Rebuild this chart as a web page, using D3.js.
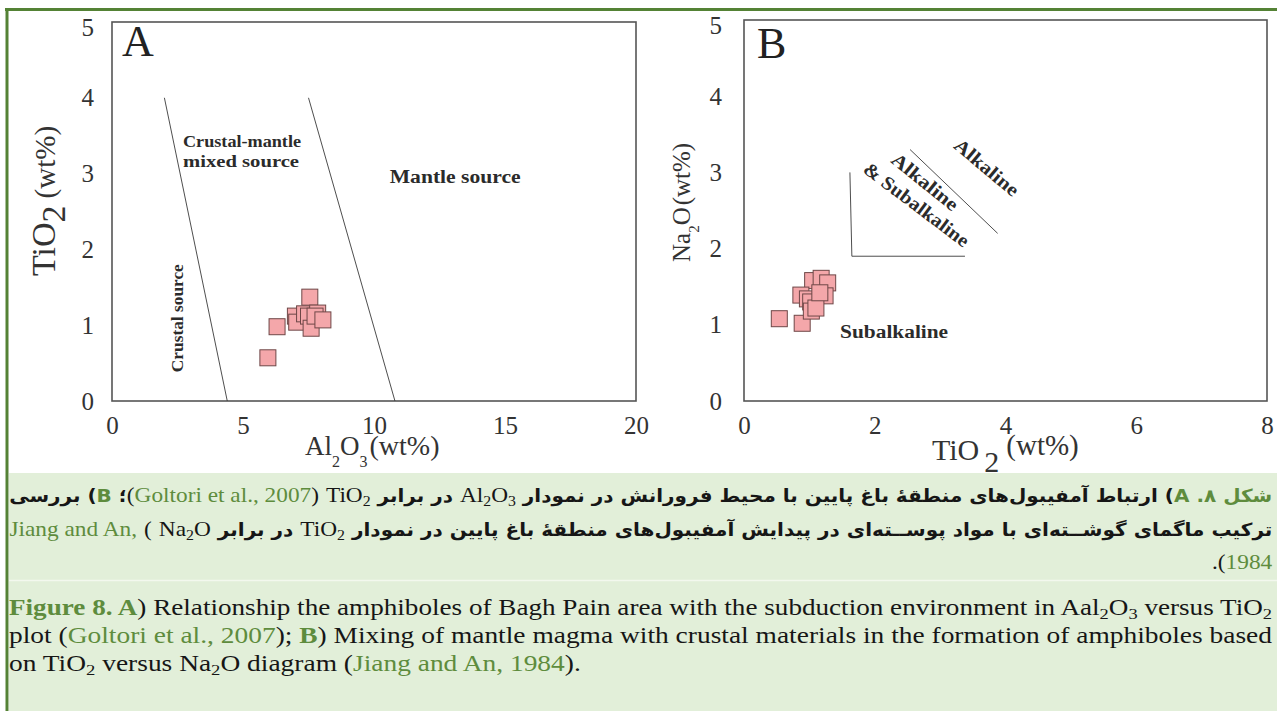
<!DOCTYPE html>
<html>
<head>
<meta charset="utf-8">
<script src="https://cdn.jsdelivr.net/npm/d3@7"></script>
<style>
  html, body { margin: 0; padding: 0; background: #fff; }
  #wrap { position: relative; width: 1277px; height: 711px; overflow: hidden; }
  #chart { position: absolute; left: 0; top: 0; }
  .line { position: absolute; left: 9px; width: 1263px; white-space: nowrap; }
  .line .in { display: inline-block; white-space: nowrap; }
  .fa { font-family: "DejaVu Sans"; font-weight: bold; font-size: 18px; color: #161616; }
  .fa .lat { font-family: "Liberation Serif"; font-weight: normal; font-size: 21px; unicode-bidi: isolate; direction: ltr; }
  .fa .par { font-family: "Liberation Serif"; font-weight: normal; font-size: 21px; }
  .en { font-family: "Liberation Serif"; font-size: 23px; color: #161616; }
  .g { color: #5e8c3d; }
  sub { font-size: 0.68em; line-height: 0; vertical-align: -0.25em; }
</style>
</head>
<body>
<div id="wrap">
  <svg id="chart" width="1277" height="711"></svg>
  <div id="cap"></div>
</div>
<script>
// ---- Panel A: Al2O3 vs TiO2 (wt%) ----
const aAl2O3 = [7.55, 6.30, 5.95, 7.00, 7.05, 7.35, 7.50, 7.60, 7.85, 7.75, 8.05];
const aTiO2  = [1.37, 0.98, 0.57, 1.12, 1.04, 1.15, 1.12, 0.96, 1.16, 1.12, 1.07];
const aXTicks = [0, 5, 10, 15, 20];
const aYTicks = [0, 1, 2, 3, 4, 5];
// field boundaries (Al2O3, TiO2)
const aBoundaryCrustal = [[2.0, 4.0], [4.4, 0]];
const aBoundaryMantle  = [[7.5, 4.0], [10.8, 0]];

// ---- Panel B: TiO2 vs Na2O (wt%) ----
const bTiO2 = [0.54, 0.89, 1.05, 1.18, 1.28, 0.87, 1.24, 0.97, 1.02, 1.03, 1.10, 1.16];
const bNa2O = [1.08, 1.02, 1.58, 1.61, 1.55, 1.39, 1.38, 1.34, 1.30, 1.18, 1.22, 1.42];
const bXTicks = [0, 2, 4, 6, 8];
const bYTicks = [0, 1, 2, 3, 4, 5];
// field boundaries (TiO2, Na2O)
const bBoundarySubalk = [[1.62, 3.0], [1.65, 1.9], [3.38, 1.9]];
const bBoundaryAlk    = [[2.54, 3.3], [3.88, 2.2]];

const SERIF = "Liberation Serif, Times New Roman, serif";
const svg = d3.select("#chart");

// page frame and caption background
svg.append("rect").attr("x", 9).attr("y", 473).attr("width", 1268).attr("height", 238).attr("fill", "#e2efd9");
svg.append("line").attr("x1", 9).attr("x2", 1277).attr("y1", 580.5).attr("y2", 580.5).attr("stroke", "#f3f8ee").attr("stroke-width", 1.5);
svg.append("line").attr("x1", 5).attr("x2", 1277).attr("y1", 9.5).attr("y2", 9.5).attr("stroke", "#548235").attr("stroke-width", 3);
svg.append("line").attr("x1", 7).attr("x2", 7).attr("y1", 8).attr("y2", 711).attr("stroke", "#548235").attr("stroke-width", 3);

function drawPanel(o) {
  const g = svg.append("g");
  const [x0, x1] = o.x.range(), [y0, y1] = o.y.range();

  const xa = g.append("g").attr("transform", `translate(0,${y0})`)
    .call(d3.axisBottom(o.x).tickValues(o.xTicks).tickSize(0).tickPadding(15).tickFormat(d3.format("d")));
  const ya = g.append("g").attr("transform", `translate(${x0},0)`)
    .call(d3.axisLeft(o.y).tickValues(o.yTicks).tickSize(0).tickPadding(o.yPad).tickFormat(d3.format("d")));
  [xa, ya].forEach(a => {
    a.select(".domain").remove();
    a.selectAll("text").attr("font-family", SERIF).attr("font-size", 25).attr("fill", "#333");
  });
  // top label sits a little below the frame corner
  ya.selectAll(".tick").filter(d => d === o.yTicks[o.yTicks.length - 1]).select("text").attr("dy", "0.52em");

  g.append("rect").attr("x", x0).attr("y", y1).attr("width", x1 - x0).attr("height", y0 - y1)
    .attr("fill", "none").attr("stroke", "#555").attr("stroke-width", 1.6);

  const line = d3.line().x(d => o.x(d[0])).y(d => o.y(d[1]));
  o.boundaries.forEach(b => g.append("path").attr("d", line(b))
    .attr("fill", "none").attr("stroke", "#3a3a3a").attr("stroke-width", 0.9));

  o.labels.forEach(l => {
    const t = g.append("text")
      .attr("transform", `translate(${o.x(l.at[0])},${o.y(l.at[1])}) rotate(${l.rot || 0})`)
      .attr("text-anchor", l.anchor || "start")
      .attr("font-family", SERIF).attr("font-weight", "bold")
      .attr("font-size", l.size).attr("fill", "#2b2b2b").text(l.text);
    if (l.len) t.attr("textLength", l.len).attr("lengthAdjust", "spacingAndGlyphs");
  });

  g.append("text").attr("x", o.x(o.tag.at[0])).attr("y", o.y(o.tag.at[1]))
    .attr("font-family", SERIF).attr("font-size", 44).attr("fill", "#222").text(o.tag.text);

  const pts = o.xs.map((v, i) => [v, o.ys[i]]);
  g.append("g").selectAll("rect").data(pts).join("rect")
    .attr("x", d => o.x(d[0]) - 8).attr("y", d => o.y(d[1]) - 8)
    .attr("width", 16).attr("height", 16)
    .attr("fill", "#f4a7aa").attr("stroke", "#6e4747").attr("stroke-width", 1);
  return g;
}

const ax = d3.scaleLinear().domain([0, 20]).range([112, 636]);
const ay = d3.scaleLinear().domain([0, 5]).range([401, 22]);
const bx = d3.scaleLinear().domain([0, 8]).range([744, 1267]);
const by = d3.scaleLinear().domain([0, 5]).range([401, 20]);

drawPanel({
  x: ax, y: ay, xTicks: aXTicks, yTicks: aYTicks, yPad: 18,
  xs: aAl2O3, ys: aTiO2,
  boundaries: [aBoundaryCrustal, aBoundaryMantle],
  tag: { text: "A", at: [0.38, 4.55] },
  labels: [
    { text: "Crustal-mantle", at: [2.71, 3.35], size: 17, len: 118 },
    { text: "mixed source", at: [2.71, 3.09], size: 17, len: 116 },
    { text: "Mantle source", at: [10.6, 2.88], size: 18, len: 131 },
    { text: "Crustal source", at: [2.72, 0.38], size: 16, rot: -90, len: 108 }
  ]
});

drawPanel({
  x: bx, y: by, xTicks: bXTicks, yTicks: bYTicks, yPad: 22,
  xs: bTiO2, ys: bNa2O,
  boundaries: [bBoundarySubalk, bBoundaryAlk],
  tag: { text: "B", at: [0.2, 4.5] },
  labels: [
    { text: "Subalkaline", at: [1.47, 0.83], size: 18, len: 108 },
    { text: "Alkaline", at: [3.65, 3.0], size: 19, rot: 40, anchor: "middle", len: 78 },
    { text: "Alkaline", at: [2.71, 2.81], size: 19, rot: 39, anchor: "middle", len: 80 },
    { text: "& Subalkaline", at: [2.58, 2.51], size: 19, rot: 37, anchor: "middle", len: 127 }
  ]
});

// axis titles with chemical subscripts
function title(tr, parts) {
  const t = svg.append("text").attr("transform", tr).attr("font-family", SERIF).attr("fill", "#333");
  parts.forEach(p => {
    const s = t.append("tspan").attr("font-size", p[1]).text(p[0]);
    if (p[2]) s.attr("dy", p[2]);
    if (p[3]) s.attr("dx", p[3]);
  });
}
title("translate(55,276) rotate(-90)", [["TiO", 34], ["2", 34, 10], ["(wt%)", 29, -10, 7]]);
title("translate(305,455)", [["Al", 27], ["2", 16, 12], ["O", 27, -12], ["3", 16, 12], ["(wt%)", 28, -12, 2]]);
title("translate(690,262) rotate(-90)", [["Na", 25], ["2", 15, 9], ["O", 25, -9], ["(wt%)", 25, 0, 2]]);
title("translate(932,460)", [["TiO", 30], ["2", 30, 12, 5], ["(wt%)", 29, -17, 7]]);

// ---- caption ----
const captionLines = [
  { cls: "fa", dir: "rtl", cy: 495, justify: true,
    html: '<span class="g">شکل ۸. A</span>) ارتباط آمفیبول‌های منطقهٔ باغ پایین با محیط فرورانش در نمودار <span class="lat">Al<sub>2</sub>O<sub>3</sub></span> در برابر <span class="lat">TiO<sub>2</sub></span> <span class="par">(</span><span class="lat g">Goltori et al., 2007</span><span class="par">)</span>؛ <span class="g">B</span>) بررسی' },
  { cls: "fa", dir: "rtl", cy: 529, justify: true,
    html: 'ترکیب ماگمای گوشــته‌ای با مواد پوســته‌ای در پیدایش آمفیبول‌های منطقهٔ باغ پایین در نمودار <span class="lat">TiO<sub>2</sub></span> در برابر <span class="lat">Na<sub>2</sub>O</span> <span class="lat">(</span> <span class="lat g">Jiang and An,</span>' },
  { cls: "fa", dir: "rtl", cy: 562, justify: false,
    html: '<span class="lat g">1984</span><span class="par">).</span>' },
  { cls: "en", dir: "ltr", cy: 608, justify: true,
    html: '<b class="g">Figure 8. A</b>) Relationship the amphiboles of Bagh Pain area with the subduction environment in Aal<sub>2</sub>O<sub>3</sub> versus TiO<sub>2</sub>' },
  { cls: "en", dir: "ltr", cy: 636, justify: true,
    html: 'plot (<span class="g">Goltori et al., 2007</span>); <b class="g">B</b>) Mixing of mantle magma with crustal materials in the formation of amphiboles based' },
  { cls: "en", dir: "ltr", cy: 664, justify: false,
    html: 'on TiO<sub>2</sub> versus Na<sub>2</sub>O diagram (<span class="g">Jiang and An, 1984</span>).' }
];

const cap = d3.select("#cap");
const lastK = {};
const LH = 28, W = 1263;
captionLines.forEach(l => {
  const div = cap.append("div").attr("class", "line " + l.cls).attr("dir", l.dir)
    .style("top", (l.cy - LH / 2) + "px").style("height", LH + "px").style("line-height", LH + "px");
  const span = div.append("span").attr("class", "in").html(l.html);
  const w = span.node().getBoundingClientRect().width;
  const k = l.justify ? W / w : (lastK[l.cls] || 1);
  lastK[l.cls] = k;
  span.style("transform", `scaleX(${k})`)
      .style("transform-origin", l.dir === "rtl" ? "right center" : "left center");
});
</script>
</body>
</html>
